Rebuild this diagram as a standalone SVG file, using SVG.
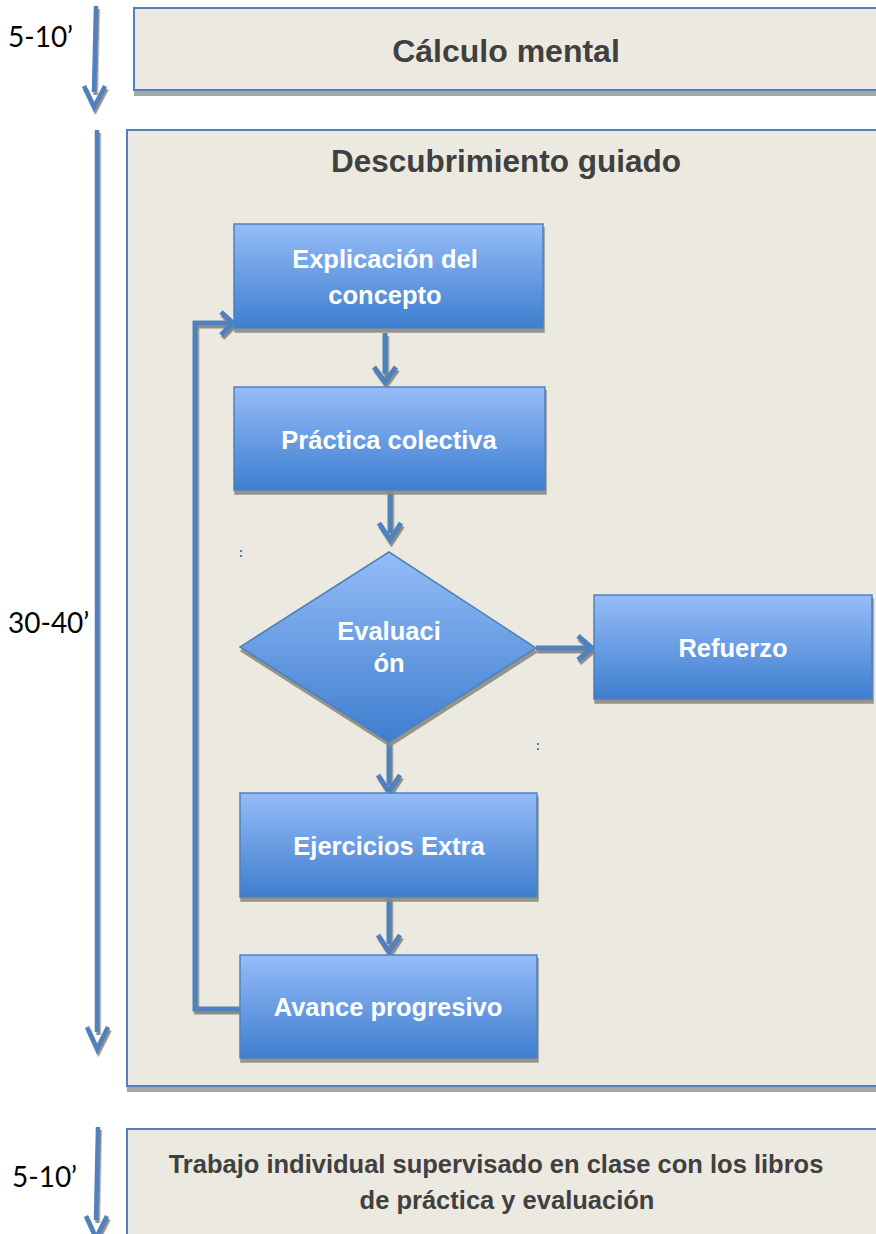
<svg xmlns="http://www.w3.org/2000/svg" width="876" height="1234" viewBox="0 0 876 1234">
<defs>
<linearGradient id="g" x1="0" y1="0" x2="0" y2="1">
<stop offset="0" stop-color="#95BCF8"/>
<stop offset="1" stop-color="#3E7ECF"/>
</linearGradient>
<filter id="sh" x="-10%" y="-10%" width="130%" height="130%">
<feDropShadow dx="1.5" dy="3" stdDeviation="0.4" flood-color="#7A7A7A" flood-opacity="0.85"/>
</filter>
<filter id="nsh" x="-10%" y="-10%" width="130%" height="130%">
<feDropShadow dx="1" dy="4" stdDeviation="0.3" flood-color="#8A8A80" flood-opacity="0.9"/>
</filter>
</defs>
<style>
.panel{fill:#ECEAE0;stroke:#4F81BD;stroke-width:2}
.pshadow{fill:#A6A6A6}
.title{font-family:"Liberation Sans",Arial,sans-serif;font-weight:bold;fill:#404040;text-anchor:middle}
.node{fill:url(#g);stroke:#4F81BD;stroke-width:1.5;filter:url(#nsh)}
.nt{font-family:"Liberation Sans",Arial,sans-serif;font-weight:bold;font-size:25.5px;fill:#FFFFFF;text-anchor:middle}
.time{font-family:Lato,"Liberation Sans",sans-serif;font-size:28px;fill:#000000}
.c{fill:none;stroke:#4F81BD;stroke-width:5}
.tl{fill:none;stroke:#4F81BD;stroke-width:4.5}
</style>

<!-- time arrows -->
<g id="timeline" filter="url(#sh)">
<path class="tl" d="M96,6 L94,92"/>
<path class="tl" d="M84,86 L94,107 L105,86"/>
<path class="tl" d="M97,130 L97,1032"/>
<path class="tl" d="M87,1027 L97,1049 L108,1027"/>
<path class="tl" d="M98,1127 L96,1220"/>
<path class="tl" d="M86,1216 L96,1238 L107,1216"/>
</g>
<text class="time" x="8" y="47">5-10’</text>
<text class="time" x="8" y="633">30-40’</text>
<text class="time" x="12" y="1187">5-10’</text>

<!-- panels -->
<g id="calculo">
<rect class="pshadow" x="134" y="90" width="742" height="6"/>
<rect class="panel" x="134" y="8" width="750" height="82"/>
<text class="title" x="506" y="62" font-size="32">Cálculo mental</text>
</g>
<g id="descubrimiento">
<rect class="pshadow" x="127" y="1086" width="749" height="6"/>
<rect class="panel" x="127" y="130" width="757" height="956"/>
<text class="title" x="506" y="172" font-size="31.5">Descubrimiento guiado</text>
</g>
<g id="trabajo">
<rect class="panel" x="127" y="1129" width="757" height="120"/>
<text class="title" x="496" y="1173" font-size="25.5">Trabajo individual supervisado en clase con los libros</text>
<text class="title" x="507" y="1209" font-size="25.5">de práctica y evaluación</text>
</g>

<!-- connectors -->
<g id="connectors" filter="url(#sh)">
<path class="c" d="M385,333 L385,374"/>
<path class="c" d="M374,367 L385,382 L396,367"/>
<path class="c" d="M390,490 L390,533"/>
<path class="c" d="M379,523 L390,540 L401,523"/>
<path class="c" d="M536,648 L588,648"/>
<path class="c" d="M578,636 L592,648 L578,660"/>
<path class="c" d="M389,742 L389,785"/>
<path class="c" d="M378,775 L389,792 L400,775"/>
<path class="c" d="M389,897 L389,944"/>
<path class="c" d="M378,935 L389,952 L400,935"/>
<path class="c" d="M240,1009 L195,1009 L195,323 L229,323"/>
<path class="c" d="M221,312 L233,323 L221,335"/>
</g>

<!-- nodes -->
<g id="explicacion">
<rect class="node" x="234" y="224" width="309" height="104"/>
<text class="nt" x="385" y="268">Explicación del</text>
<text class="nt" x="385" y="304">concepto</text>
</g>
<g id="practica">
<rect class="node" x="234" y="387" width="311" height="103"/>
<text class="nt" x="389" y="449">Práctica colectiva</text>
</g>
<g id="evaluacion">
<polygon class="node" points="389,552 536,648 389,742 240,647"/>
<text class="nt" x="389" y="640" font-size="22.5">Evaluaci</text>
<text class="nt" x="389" y="672" font-size="22.5">ón</text>
</g>
<g id="refuerzo">
<rect class="node" x="594" y="595" width="278" height="104"/>
<text class="nt" x="733" y="657">Refuerzo</text>
</g>
<g id="ejercicios">
<rect class="node" x="240" y="793" width="297" height="104"/>
<text class="nt" x="389" y="855">Ejercicios Extra</text>
</g>
<g id="avance">
<rect class="node" x="240" y="955" width="297" height="103"/>
<text class="nt" x="388" y="1016">Avance progresivo</text>
</g>

<!-- tiny marks -->
<g fill="#4F81BD">
<rect x="240" y="550" width="2" height="2"/>
<rect x="240" y="555" width="2" height="2"/>
<rect x="537" y="743" width="2" height="2"/>
<rect x="537" y="748" width="2" height="2"/>
</g>
</svg>
